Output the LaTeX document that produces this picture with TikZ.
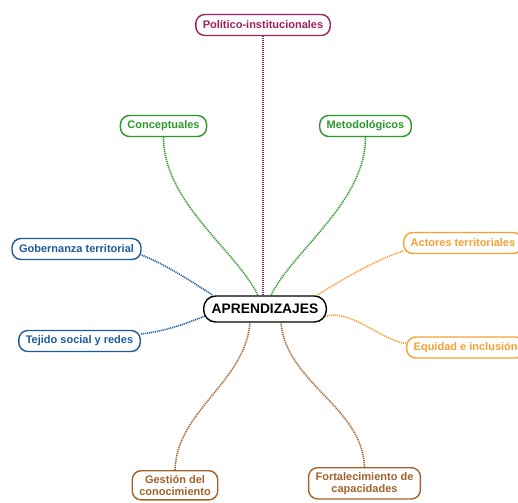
\documentclass[tikz,border=0pt]{standalone}
\usepackage{fontspec}
\setmainfont{Liberation Sans}
\usetikzlibrary{backgrounds}
\definecolor{polc}{HTML}{A0215A}
\definecolor{grnc}{HTML}{2B9A2B}
\definecolor{bluc}{HTML}{1F5A9E}
\definecolor{orgc}{HTML}{F7A033}
\definecolor{brnc}{HTML}{A3622A}
\tikzset{
  topic/.style={draw, line width=1.4pt, rounded corners=9pt, fill=white,
    font=\fontsize{11}{12}\selectfont\bfseries, inner xsep=7pt, inner ysep=2pt,
    minimum height=21pt, align=center},
  twoline/.style={inner ysep=4.5pt},
  hub/.style={topic, draw=black, text=black, rounded corners=12pt,
    font=\fontsize{13.8}{15}\selectfont\bfseries, minimum height=26pt, inner xsep=8pt},
  link/.style={line width=1.6pt, dash pattern=on 1.1pt off 0.9pt}
}
\begin{document}
\begin{tikzpicture}[x=1pt,y=-1pt]
\path[use as bounding box] (0,0) rectangle (518,502);
\clip (0,0) rectangle (518,502);

\node[hub] (c) at (265,309) {APRENDIZAJES};

\node[topic, draw=polc, text=polc] (pol) at (263,25) {Político-institucionales};
\node[topic, draw=grnc, text=grnc] (con) at (163.5,126) {Conceptuales};
\node[topic, draw=grnc, text=grnc] (met) at (365.5,126) {Metodológicos};
\node[topic, draw=bluc, text=bluc] (gob) at (76.5,249) {Gobernanza territorial};
\node[topic, draw=bluc, text=bluc] (tej) at (79.5,341) {Tejido social y redes};
\node[topic, draw=orgc, text=orgc, anchor=west] (act) at (403,243) {Actores territoriales};
\node[topic, draw=orgc, text=orgc, anchor=west] (equ) at (406,347.5) {Equidad e inclusión};
\node[topic, twoline, draw=brnc, text=brnc, anchor=north] (ges) at (175,470) {Gestión del\\conocimiento};
\node[topic, twoline, draw=brnc, text=brnc, anchor=north] (for) at (364.5,467) {Fortalecimiento de\\capacidades};

\begin{scope}[on background layer]
\draw[link, polc] (pol.south) -- (pol.south |- c.north);
\draw[link, grnc] (con.south) .. controls +(0,65) and +(-22,-45) .. ([xshift=-7pt]c.north);
\draw[link, grnc] (met.south) .. controls +(0,65) and +(22,-45) .. ([xshift=6pt]c.north);
\draw[link, bluc] ([yshift=-6pt]gob.east) .. controls +(25,10) and +(-22,-14) .. ([xshift=10pt]c.north west);
\draw[link, bluc] ([yshift=7pt]tej.east) .. controls +(25,-3) and +(-20,8) .. ([xshift=2pt,yshift=-7pt]c.west);
\draw[link, orgc] ([yshift=-8pt]act.west) .. controls +(-25,8) and +(25,-16) .. ([xshift=-10pt]c.north east);
\draw[link, orgc] ([yshift=4pt]equ.west) .. controls +(-25,-3) and +(25,-10) .. ([xshift=-3pt,yshift=-8pt]c.east);
\draw[link, brnc] (ges.north) .. controls +(2,-60) and +(-5,60) .. ([xshift=-15pt]c.south);
\draw[link, brnc] (for.north) .. controls +(-2,-60) and +(5,60) .. ([xshift=16pt]c.south);
\end{scope}
\end{tikzpicture}
\end{document}
